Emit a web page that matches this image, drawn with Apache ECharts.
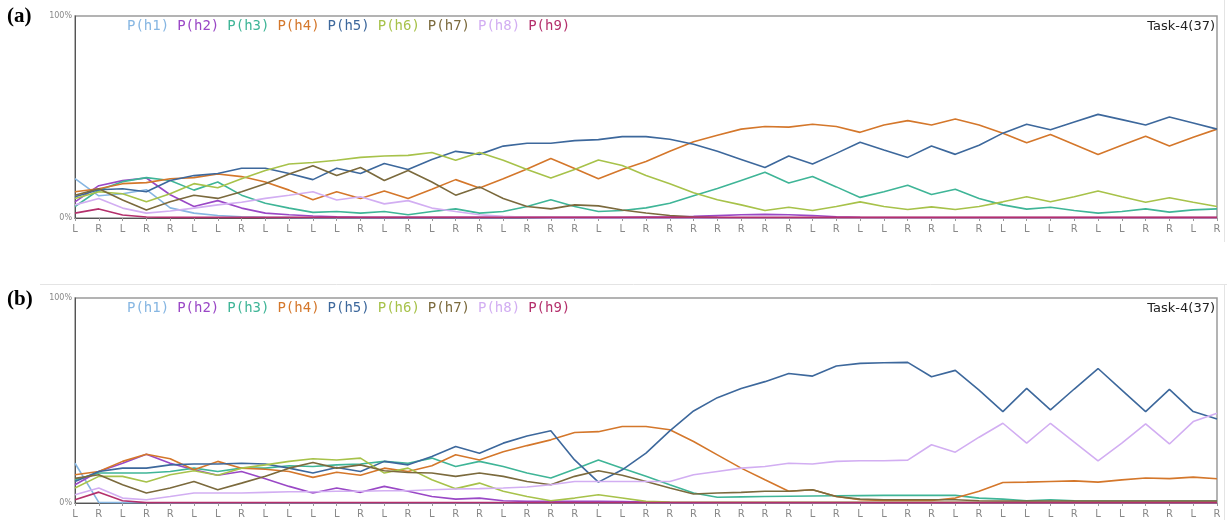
<!DOCTYPE html>
<html>
<head>
<meta charset="utf-8">
<title>Task-4(37) posterior P(h)</title>
<script src="https://cdn.jsdelivr.net/npm/echarts@6.0.0/dist/echarts.min.js"></script>
<style>
  html, body { margin: 0; padding: 0; background: #fff; }
  #chart { width: 1227px; height: 520px; }
</style>
</head>
<body>
<div id="chart"></div>
<script>
// Trial sequence (side chosen at each step)
const stepLabels = ['L','R','L','R','R','L','L','R','L','L',
                    'L','L','R','L','R','L','R','R','L','R',
                    'R','R','L','L','R','R','R','R','R','R',
                    'R','L','R','L','L','R','R','L','R','L',
                    'L','L','R','L','L','R','R','L','R'];

const seriesNames = ['P(h1)','P(h2)','P(h3)','P(h4)','P(h5)','P(h6)','P(h7)','P(h8)','P(h9)'];
const seriesColors = ['#86b6e2','#9a48c6','#3fb597','#d4772b','#3d689c','#a7c24a','#7b6a3d','#d2aef2','#b4306c'];

// Panel (a) — probability of each hypothesis, %
const a_h1 = [19.5, 11.0, 12.0, 14.0, 5.0, 2.4, 1.2, 0.6, 0.3, 0.2,
              0, 0, 0, 0, 0, 0, 0, 0, 0, 0,
              0, 0, 0, 0, 0, 0, 0, 0, 0, 0,
              0, 0, 0, 0, 0, 0, 0, 0, 0, 0,
              0, 0, 0, 0, 0, 0, 0, 0, 0];
const a_h2 = [8.0, 16.0, 18.5, 19.8, 11.5, 5.7, 8.6, 4.9, 2.4, 1.6,
              1.0, 0.6, 0.4, 0.3, 0.3, 0.3, 0.3, 0.3, 0.3, 0.3,
              0.3, 0.3, 0.3, 0.4, 0.5, 0.6, 0.8, 1.2, 1.6, 1.8,
              1.6, 1.2, 0.6, 0.3, 0.2, 0.2, 0.2, 0.2, 0.2, 0.2,
              0.2, 0.2, 0.2, 0.2, 0.2, 0.2, 0.2, 0.2, 0.2];
const a_h3 = [5.7, 13.8, 18.0, 20.0, 18.6, 13.8, 17.8, 11.3, 7.3, 4.9,
              2.8, 3.2, 2.4, 3.2, 1.6, 3.2, 4.5, 2.4, 3.2, 5.7,
              9.0, 5.7, 3.2, 3.7, 5.0, 7.3, 11.0, 14.6, 18.6, 22.6,
              17.3, 20.5, 15.4, 10.2, 13.0, 16.2, 11.6, 14.2, 9.7, 6.5,
              4.4, 5.3, 3.7, 2.4, 3.2, 4.5, 2.9, 4.0, 4.5];
const a_h4 = [13.0, 14.5, 17.0, 17.5, 19.4, 20.0, 21.8, 20.5, 17.8, 13.8,
              9.0, 13.0, 9.7, 13.4, 9.7, 14.2, 19.0, 14.9, 19.4, 24.3,
              29.5, 24.5, 19.4, 24.0, 28.0, 33.0, 37.7, 41.0, 44.0, 45.3,
              45.0, 46.4, 45.3, 42.4, 46.0, 48.2, 46.0, 49.0, 46.0, 42.0,
              37.2, 41.3, 36.4, 31.4, 36.0, 40.5, 35.6, 40.0, 44.0];
const a_h5 = [10.5, 14.0, 14.5, 13.0, 18.6, 21.0, 22.0, 24.6, 24.6, 22.0,
              19.0, 24.6, 22.0, 27.0, 24.0, 29.0, 33.0, 31.5, 35.6, 37.0,
              37.0, 38.3, 38.8, 40.3, 40.3, 39.0, 36.5, 33.0, 29.0, 25.0,
              30.7, 26.7, 32.0, 37.5, 33.7, 30.0, 35.6, 31.5, 36.0, 42.0,
              46.4, 43.7, 47.5, 51.3, 48.7, 46.0, 50.0, 47.0, 44.0];
const a_h6 = [9.7, 13.0, 12.0, 8.0, 12.0, 17.0, 15.0, 19.4, 23.5, 26.7,
              27.5, 28.6, 30.0, 30.7, 31.0, 32.4, 28.6, 32.4, 28.6, 24.0,
              19.8, 24.0, 28.7, 26.0, 21.0, 17.0, 12.5, 9.0, 6.5, 3.7,
              5.3, 3.7, 5.7, 8.0, 5.7, 4.2, 5.5, 4.2, 5.7, 8.0,
              10.5, 8.0, 10.5, 13.4, 10.5, 7.8, 10.0, 7.8, 5.7];
const a_h7 = [11.3, 14.5, 8.9, 4.0, 8.0, 11.3, 9.7, 13.0, 17.0, 21.8,
              25.9, 21.0, 25.0, 18.6, 23.5, 17.8, 11.3, 15.4, 9.7, 5.7,
              4.5, 6.5, 6.0, 4.0, 2.5, 1.2, 0.5, 0.2, 0, 0,
              0, 0, 0, 0, 0, 0, 0, 0, 0, 0,
              0, 0, 0, 0, 0, 0, 0, 0, 0];
const a_h8 = [6.5, 9.7, 4.9, 2.4, 3.5, 4.9, 6.5, 7.8, 9.7, 11.3,
              13.0, 8.9, 10.5, 7.0, 8.6, 4.9, 3.2, 1.6, 0.8, 0.3,
              0, 0, 0, 0, 0, 0, 0, 0, 0, 0,
              0, 0, 0, 0, 0, 0, 0, 0, 0, 0,
              0, 0, 0, 0, 0, 0, 0, 0, 0];
const a_h9 = [2.4, 4.5, 1.5, 0.5, 0.3, 0.3, 0.3, 0.3, 0.3, 0.3,
              0.3, 0.3, 0.3, 0.3, 0.3, 0.3, 0.3, 0.3, 0.3, 0.3,
              0.3, 0.3, 0.3, 0.3, 0.3, 0.3, 0.3, 0.3, 0.3, 0.3,
              0.3, 0.3, 0.3, 0.3, 0.3, 0.3, 0.3, 0.3, 0.3, 0.3,
              0.3, 0.3, 0.3, 0.3, 0.3, 0.3, 0.3, 0.3, 0.3];

// Panel (b) — probability of each hypothesis, %
const b_h1 = [19.4, 0.3, 0.2, 0.1, 0, 0, 0, 0, 0, 0,
              0, 0, 0, 0, 0, 0, 0, 0, 0, 0,
              0, 0, 0, 0, 0, 0, 0, 0, 0, 0,
              0, 0, 0, 0, 0, 0, 0, 0, 0, 0,
              0, 0, 0, 0, 0, 0, 0, 0, 0];
const b_h2 = [8.9, 15.4, 19.4, 23.8, 19.4, 16.2, 13.5, 15.4, 11.8, 8.1,
              4.9, 7.3, 5.2, 8.1, 5.7, 3.2, 1.9, 2.4, 1.1, 0.8,
              0.8, 0.8, 0.8, 0.7, 0.5, 0.3, 0.2, 0.2, 0.2, 0.2,
              0.2, 0.2, 0.2, 0.2, 0.2, 0.2, 0.2, 0.2, 0.2, 0.2,
              0.2, 0.2, 0.2, 0.2, 0.2, 0.2, 0.2, 0.2, 0.2];
const b_h3 = [11.3, 14.6, 14.6, 14.6, 15.4, 17.0, 15.4, 17.0, 17.0, 18.2,
              17.8, 18.6, 19.0, 20.3, 19.4, 21.9, 17.8, 20.3, 17.8, 14.6,
              12.2, 16.5, 21.0, 17.0, 13.0, 8.9, 4.9, 2.8, 3.0, 3.2,
              3.3, 3.4, 3.5, 3.6, 3.7, 3.7, 3.7, 3.7, 2.4, 1.9,
              1.1, 1.6, 1.1, 1.0, 1.0, 1.0, 1.0, 1.0, 1.0];
const b_h4 = [13.8, 15.4, 20.3, 23.8, 21.6, 16.2, 20.3, 17.0, 16.5, 15.4,
              12.5, 15.0, 13.5, 17.0, 15.4, 18.2, 23.5, 21.0, 25.0, 28.0,
              30.8, 34.4, 34.8, 37.3, 37.3, 35.7, 30.0, 23.5, 17.0, 11.3,
              5.7, 6.5, 3.2, 1.6, 1.3, 1.2, 1.2, 2.4, 5.7, 10.0,
              10.2, 10.5, 10.8, 10.2, 11.3, 12.2, 11.9, 12.6, 11.8];
const b_h5 = [10.5, 15.4, 17.0, 17.0, 18.6, 19.0, 19.0, 19.4, 19.0, 17.0,
              14.6, 17.3, 15.4, 20.3, 18.6, 22.7, 27.6, 24.3, 29.2, 32.7,
              35.2, 21.0, 10.2, 16.2, 24.3, 35.2, 44.9, 51.4, 55.9, 59.2,
              63.2, 61.9, 66.8, 68.1, 68.4, 68.6, 61.6, 64.7, 55.1, 44.6,
              55.9, 45.4, 55.6, 65.6, 55.1, 44.6, 55.4, 44.6, 41.0];
const b_h6 = [7.3, 13.0, 13.0, 10.2, 13.8, 15.7, 13.5, 17.0, 18.6, 20.3,
              21.6, 21.0, 21.9, 14.6, 17.0, 11.3, 7.0, 9.7, 5.7, 3.2,
              1.1, 2.4, 4.0, 2.4, 0.8, 0.5, 0.4, 0.3, 0.3, 0.3,
              0.3, 0.3, 0.3, 0.3, 0.3, 0.3, 0.3, 0.3, 0.3, 0.3,
              0.3, 0.3, 0.3, 0.3, 0.3, 0.3, 0.3, 0.3, 0.3];
const b_h7 = [12.0, 13.8, 8.9, 4.9, 7.3, 10.5, 6.5, 9.7, 13.0, 17.0,
              19.8, 17.0, 18.6, 15.7, 14.9, 14.6, 13.0, 14.6, 13.0, 10.5,
              8.9, 13.0, 15.7, 13.5, 10.5, 7.3, 4.4, 4.9, 5.2, 5.7,
              5.7, 6.5, 3.2, 1.9, 1.6, 1.6, 1.6, 1.6, 1.1, 1.0,
              1.0, 1.0, 1.0, 1.0, 1.0, 1.0, 1.0, 1.0, 1.0];
const b_h8 = [4.0, 7.3, 2.4, 1.6, 3.2, 4.9, 4.9, 4.9, 5.2, 5.5,
              5.5, 5.7, 5.7, 6.0, 6.0, 6.5, 6.8, 7.0, 7.3, 7.8,
              8.9, 10.5, 10.5, 10.5, 10.5, 10.5, 13.8, 15.4, 17.0, 17.8,
              19.4, 19.0, 20.3, 20.6, 20.6, 20.9, 28.4, 24.8, 32.1, 38.9,
              29.2, 38.9, 29.7, 20.6, 29.2, 38.6, 28.8, 39.7, 43.8];
const b_h9 = [1.6, 5.3, 1.1, 0.2, 0.2, 0.2, 0.2, 0.2, 0.2, 0.2,
              0.2, 0.2, 0.2, 0.2, 0.2, 0.2, 0.2, 0.2, 0.2, 0.2,
              0.2, 0.2, 0.2, 0.2, 0.2, 0.2, 0.2, 0.2, 0.2, 0.2,
              0.2, 0.2, 0.2, 0.2, 0.2, 0.2, 0.2, 0.2, 0.2, 0.2,
              0.2, 0.2, 0.2, 0.2, 0.2, 0.2, 0.2, 0.2, 0.2];

const yTicks = [0, 100];
const panelTag = ['(a)', '(b)'];
const taskTitle = 'Task-4(37)';

const panelA = [a_h1, a_h2, a_h3, a_h4, a_h5, a_h6, a_h7, a_h8, a_h9];
const panelB = [b_h1, b_h2, b_h3, b_h4, b_h5, b_h6, b_h7, b_h8, b_h9];

const chart = echarts.init(document.getElementById('chart'), null, { renderer: 'canvas' });

const grids = [
  { left: 75, top: 16, width: 1142, height: 202 },
  { left: 75, top: 298, width: 1142, height: 205 }
];

function makeXAxis(gi) {
  return {
    type: 'category',
    gridIndex: gi,
    boundaryGap: false,
    data: stepLabels.map((_, i) => String(i)),
    axisLine: { show: true, lineStyle: { color: '#555', width: 1 } },
    axisTick: { show: true, interval: 0, length: 3, lineStyle: { color: '#999' } },
    axisLabel: {
      interval: 0, margin: 6, fontSize: 10, color: '#888',
      fontFamily: 'DejaVu Sans',
      formatter: (v, i) => stepLabels[i]
    },
    splitLine: { show: false }
  };
}
function makeYAxis(gi) {
  return {
    type: 'value',
    gridIndex: gi,
    min: yTicks[0], max: yTicks[1], interval: yTicks[1] - yTicks[0],
    axisLine: { show: true, lineStyle: { color: '#555', width: 1 } },
    axisTick: { show: false },
    axisLabel: { margin: 3, fontSize: 8, color: '#888', fontFamily: 'DejaVu Sans', formatter: '{value}%' },
    splitLine: { show: false }
  };
}
function makeLegend(top) {
  return {
    left: 122, top: top, padding: 0, itemGap: 3,
    itemWidth: 0, itemHeight: 0, icon: 'rect',
    selectedMode: false,
    data: seriesNames.map((n, k) => ({ name: n, textStyle: { color: seriesColors[k] } })),
    textStyle: { fontSize: 14, fontFamily: 'DejaVu Sans Mono' }
  };
}

const series = [];
[panelA, panelB].forEach((panel, gi) => {
  panel.forEach((vals, k) => {
    series.push({
      name: seriesNames[k],
      type: 'line',
      xAxisIndex: gi, yAxisIndex: gi,
      data: vals,
      showSymbol: false,
      symbol: 'none',
      lineStyle: { width: 1.6, color: seriesColors[k] },
      itemStyle: { color: seriesColors[k] },
      z: 2 + k
    });
  });
});

const option = {
  animation: false,
  backgroundColor: '#fff',
  grid: grids.map(g => Object.assign({ show: true, borderColor: '#9a9a9a', borderWidth: 1.5, backgroundColor: '#fff' }, g)),
  xAxis: [makeXAxis(0), makeXAxis(1)],
  yAxis: [makeYAxis(0), makeYAxis(1)],
  legend: [makeLegend(19), makeLegend(301)],
  series: series,
  graphic: [
    // outer panel frames
    { type: 'line', shape: { x1: 40, y1: 284.5, x2: 1227, y2: 284.5 }, style: { stroke: '#e4e4e4', lineWidth: 1 } },
    { type: 'line', shape: { x1: 1224.5, y1: 284, x2: 1224.5, y2: 520 }, style: { stroke: '#e4e4e4', lineWidth: 1 } },
    { type: 'line', shape: { x1: 1224.5, y1: 0, x2: 1224.5, y2: 242 }, style: { stroke: '#e4e4e4', lineWidth: 1 } },
    // panel tags
    { type: 'text', left: 7, top: 6, style: { text: panelTag[0], font: 'bold 21px "Liberation Serif"', fill: '#000' } },
    { type: 'text', left: 7, top: 289, style: { text: panelTag[1], font: 'bold 21px "Liberation Serif"', fill: '#000' } },
    // task titles
    { type: 'text', x: 1215, y: 27, style: { text: taskTitle, font: '13px "DejaVu Sans"', fill: '#222', textAlign: 'right', textVerticalAlign: 'middle' } },
    { type: 'text', x: 1215, y: 309, style: { text: taskTitle, font: '13px "DejaVu Sans"', fill: '#222', textAlign: 'right', textVerticalAlign: 'middle' } }
  ]
};

chart.setOption(option);
</script>
</body>
</html>
